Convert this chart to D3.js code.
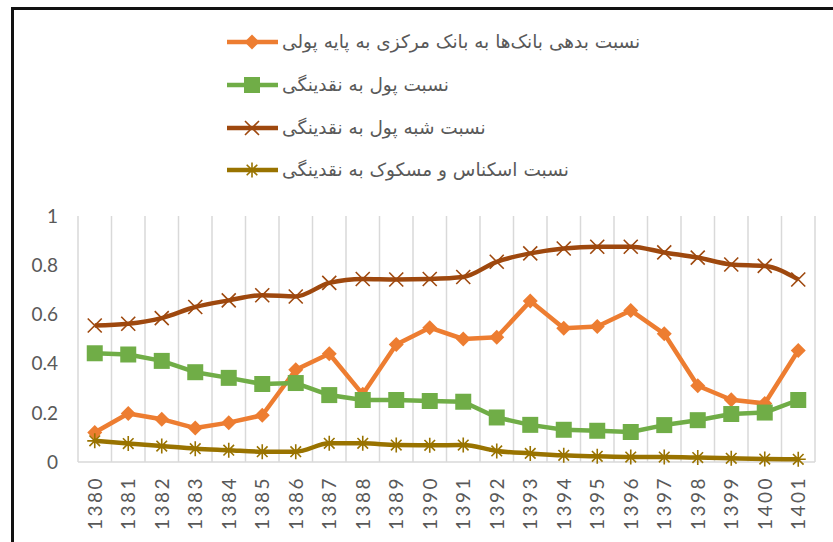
<!DOCTYPE html>
<html>
<head>
<meta charset="utf-8">
<script src="https://cdn.jsdelivr.net/npm/d3@7"></script>
<style>
  body { margin: 0; background: #fff; }
  .axisText { font-family: Lato, "Open Sans", sans-serif; font-size: 19px; fill: #595959; }
  .xText { letter-spacing: 2.5px; }
  .legendText { font-family: "DejaVu Sans", sans-serif; font-size: 18.5px; fill: #595959; }
</style>
</head>
<body>
<div id="chart"></div>
<script>
// data
var years = ["1380", "1381", "1382", "1383", "1384", "1385", "1386", "1387", "1388", "1389", "1390",
  "1391", "1392", "1393", "1394", "1395", "1396", "1397", "1398", "1399", "1400", "1401"];

var bankDebt = [0.12, 0.197, 0.174, 0.138, 0.16, 0.19, 0.375, 0.44, 0.275, 0.478, 0.546,
  0.5, 0.507, 0.654, 0.544, 0.551, 0.616, 0.521, 0.31, 0.253, 0.238, 0.453];
var moneyRatio = [0.442, 0.437, 0.411, 0.365, 0.342, 0.317, 0.321, 0.272, 0.252, 0.252, 0.248,
  0.245, 0.181, 0.151, 0.131, 0.127, 0.122, 0.15, 0.17, 0.195, 0.201, 0.252];
var quasiMoney = [0.555, 0.562, 0.585, 0.63, 0.657, 0.678, 0.673, 0.728, 0.744, 0.742, 0.744,
  0.752, 0.814, 0.848, 0.868, 0.875, 0.875, 0.852, 0.831, 0.803, 0.797, 0.742];
var coinsNotes = [0.086, 0.075, 0.065, 0.054, 0.048, 0.042, 0.042, 0.076, 0.076, 0.069, 0.068,
  0.069, 0.045, 0.035, 0.027, 0.023, 0.02, 0.02, 0.018, 0.015, 0.012, 0.011];

var seriesNames = [
  "نسبت بدهی بانک‌ها به بانک مرکزی به پایه پولی",
  "نسبت پول به نقدینگی",
  "نسبت شبه پول به نقدینگی",
  "نسبت اسکناس و مسکوک به نقدینگی"
];
var yTicks = [0, 0.2, 0.4, 0.6, 0.8, 1];

var svgWidth = 833;
var svgHeight = 542;
var plot = { left: 78, right: 815, top: 216, bottom: 462 };

var svg = d3.select("#chart")
  .append("svg")
  .attr("width", svgWidth)
  .attr("height", svgHeight);

// frame (top and left edges only)
svg.append("path")
  .attr("d", "M12.5,542 V8.5 H833")
  .attr("fill", "none")
  .attr("stroke", "#111")
  .attr("stroke-width", 3);

var xScale = d3.scaleBand()
  .domain(years)
  .range([plot.left, plot.right]);

var yScale = d3.scaleLinear()
  .domain([0, 1])
  .range([plot.bottom, plot.top]);

// vertical gridlines at category edges
var edges = years.map(d => xScale(d)).concat([plot.right]);
svg.append("g").selectAll("line")
  .data(edges)
  .enter()
  .append("line")
  .attr("x1", d => d).attr("x2", d => d)
  .attr("y1", plot.top).attr("y2", plot.bottom)
  .attr("stroke", "#d9d9d9")
  .attr("stroke-width", 1.5);

svg.append("line")
  .attr("x1", plot.left).attr("x2", plot.right)
  .attr("y1", plot.bottom).attr("y2", plot.bottom)
  .attr("stroke", "#d9d9d9")
  .attr("stroke-width", 1.5);

// y labels
svg.append("g").selectAll("text")
  .data(yTicks)
  .enter()
  .append("text")
  .attr("class", "axisText")
  .attr("x", 58)
  .attr("y", d => yScale(d))
  .attr("dy", "0.36em")
  .attr("text-anchor", "end")
  .text(d => d3.format("~g")(d));

// x labels (rotated)
svg.append("g").selectAll("text")
  .data(years)
  .enter()
  .append("text")
  .attr("class", "axisText xText")
  .attr("transform", d => `translate(${xScale(d) + xScale.bandwidth() / 2}, 476) rotate(-90)`)
  .attr("dy", "0.36em")
  .attr("text-anchor", "end")
  .text(d => d);

// markers
function markerPath(type) {
  if (type === "diamond") return "M0,-7.5 L7.5,0 L0,7.5 L-7.5,0 Z";
  if (type === "square") return "M-8,-8 H8 V8 H-8 Z";
  if (type === "x") return "M-7,-7 L7,7 M-7,7 L7,-7";
  return "M0,-7.5 V7.5 M-7.5,0 H7.5 M-5.3,-5.3 L5.3,5.3 M-5.3,5.3 L5.3,-5.3";
}

var series = [
  { name: seriesNames[0], values: bankDebt, color: "#ED7D31", marker: "diamond", smooth: false },
  { name: seriesNames[1], values: moneyRatio, color: "#70AD47", marker: "square", smooth: false },
  { name: seriesNames[2], values: quasiMoney, color: "#9E480E", marker: "x", smooth: true },
  { name: seriesNames[3], values: coinsNotes, color: "#997300", marker: "asterisk", smooth: true }
];

function drawMarker(g, s, x, y) {
  var filled = s.marker === "diamond" || s.marker === "square";
  g.append("path")
    .attr("transform", `translate(${x},${y})`)
    .attr("d", markerPath(s.marker))
    .attr("fill", filled ? s.color : "none")
    .attr("stroke", s.color)
    .attr("stroke-width", filled ? 0 : 1.6);
}

series.forEach(function (s) {
  var line = d3.line()
    .x((d, i) => xScale(years[i]) + xScale.bandwidth() / 2)
    .y(d => yScale(d))
    .curve(s.smooth ? d3.curveMonotoneX : d3.curveLinear);

  var g = svg.append("g");
  g.append("path")
    .datum(s.values)
    .attr("d", line)
    .attr("fill", "none")
    .attr("stroke", s.color)
    .attr("stroke-width", 4.5)
    .attr("stroke-linejoin", "round");

  s.values.forEach(function (v, i) {
    drawMarker(g, s, xScale(years[i]) + xScale.bandwidth() / 2, yScale(v));
  });
});

// legend
var legendY = [42, 85, 128, 170];
series.forEach(function (s, i) {
  var g = svg.append("g");
  g.append("line")
    .attr("x1", 227).attr("x2", 278)
    .attr("y1", legendY[i]).attr("y2", legendY[i])
    .attr("stroke", s.color)
    .attr("stroke-width", 4.5);
  drawMarker(g, s, 252, legendY[i]);
  g.append("text")
    .attr("class", "legendText")
    .attr("x", 282)
    .attr("y", legendY[i])
    .attr("dy", "0.35em")
    .attr("text-anchor", "start")
    .text(s.name);
});
</script>
</body>
</html>
